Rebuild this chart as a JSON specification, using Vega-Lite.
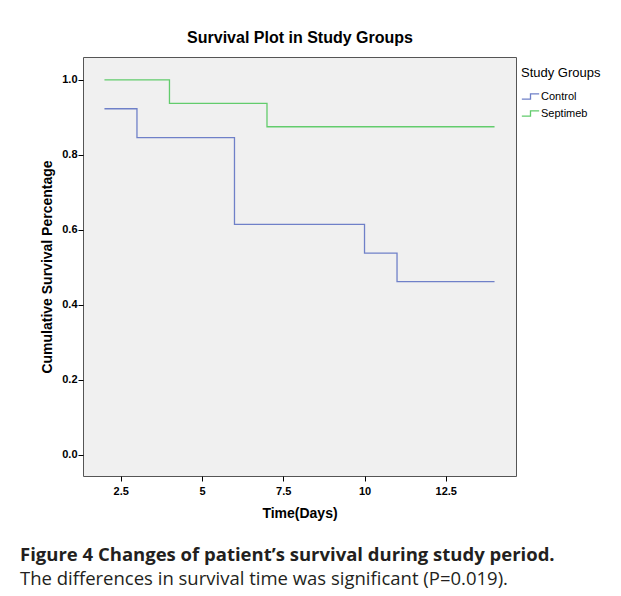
{
  "$schema": "https://vega.github.io/schema/vega-lite/v6.json",
  "width": 433,
  "height": 419,
  "autosize": {"type": "none"},
  "padding": {"left": 83, "top": 57, "right": 105, "bottom": 120},
  "background": "white",
  "config": {
    "view": {"fill": "#f0f0f0", "stroke": "#555555", "strokeWidth": 1},
    "font": "Liberation Sans"
  },
  "title": {
    "text": "Figure 4 Changes of patient’s survival during study period.",
    "subtitle": "The differences in survival time was significant (P=0.019).",
    "orient": "bottom",
    "anchor": "start",
    "frame": "group",
    "dx": -63,
    "offset": 26,
    "font": "Open Sans",
    "fontSize": 18.5,
    "fontWeight": "bold",
    "color": "#231f20",
    "subtitleFont": "Open Sans",
    "subtitleFontSize": 18.5,
    "subtitleFontWeight": "normal",
    "subtitleColor": "#231f20",
    "subtitlePadding": 5
  },
  "data": {
    "values": [
      {"time": 2, "survival": 0.923, "group": "Control"},
      {"time": 3, "survival": 0.846, "group": "Control"},
      {"time": 6, "survival": 0.615, "group": "Control"},
      {"time": 10, "survival": 0.538, "group": "Control"},
      {"time": 11, "survival": 0.462, "group": "Control"},
      {"time": 14, "survival": 0.462, "group": "Control"},
      {"time": 2, "survival": 1.0, "group": "Septimeb"},
      {"time": 4, "survival": 0.9375, "group": "Septimeb"},
      {"time": 7, "survival": 0.875, "group": "Septimeb"},
      {"time": 14, "survival": 0.875, "group": "Septimeb"}
    ]
  },
  "layer": [
    {
      "mark": {"type": "line", "interpolate": "step-after", "strokeWidth": 1.3},
      "encoding": {
        "x": {
          "field": "time",
          "type": "quantitative",
          "scale": {"domain": [1.34, 14.66], "nice": false, "zero": false},
          "axis": {
            "values": [2.5, 5, 7.5, 10, 12.5],
            "format": ".3~g",
            "domain": false,
            "grid": false,
            "tickColor": "#000000",
            "tickSize": 5,
            "labelFont": "Liberation Sans",
            "labelFontSize": 11,
            "labelFontWeight": "bold",
            "labelColor": "#000000",
            "labelPadding": 4,
            "title": "Time(Days)",
            "titleFont": "Liberation Sans",
            "titleFontSize": 14,
            "titleFontWeight": "bold",
            "titleColor": "#000000",
            "titlePadding": 10
          }
        },
        "y": {
          "field": "survival",
          "type": "quantitative",
          "scale": {"domain": [-0.056, 1.061], "nice": false, "zero": false},
          "axis": {
            "values": [0, 0.2, 0.4, 0.6, 0.8, 1.0],
            "format": ".1f",
            "domain": false,
            "grid": false,
            "tickColor": "#000000",
            "tickSize": 5,
            "labelFont": "Liberation Sans",
            "labelFontSize": 11,
            "labelFontWeight": "bold",
            "labelColor": "#000000",
            "labelPadding": 1,
            "title": "Cumulative Survival Percentage",
            "titleFont": "Liberation Sans",
            "titleFontSize": 14,
            "titleFontWeight": "bold",
            "titleColor": "#000000",
            "titlePadding": 7
          }
        },
        "color": {
          "field": "group",
          "type": "nominal",
          "scale": {"domain": ["Control", "Septimeb"], "range": ["#6f80c8", "#62cc6c"]},
          "legend": {
            "title": "Study Groups",
            "orient": "none",
            "legendX": 438,
            "legendY": 10,
            "titleFont": "Liberation Sans",
            "titleFontSize": 13,
            "titleFontWeight": "normal",
            "titleColor": "#000000",
            "titlePadding": 7,
            "labelFont": "Liberation Sans",
            "labelFontSize": 11,
            "labelColor": "#000000",
            "labelOffset": 1,
            "rowPadding": 2,
            "symbolType": "M -1 0.3 L 0 0.3 L 0 -0.3 L 1 -0.3",
            "symbolSize": 300,
            "symbolStrokeWidth": 1.3,
            "symbolFillColor": "transparent",
            "offset": 0
          }
        }
      }
    },
    {
      "mark": {"type": "point", "opacity": 0},
      "encoding": {
        "x": {
          "field": "time",
          "type": "quantitative",
          "axis": {
            "orient": "top",
            "domain": false,
            "ticks": false,
            "labels": false,
            "grid": false,
            "title": "Survival Plot in Study Groups",
            "titleFont": "Liberation Sans",
            "titleFontSize": 16,
            "titleFontWeight": "bold",
            "titleColor": "#000000",
            "titlePadding": 12
          }
        },
        "y": {"field": "survival", "type": "quantitative"}
      }
    }
  ],
  "resolve": {"axis": {"x": "independent"}}
}
